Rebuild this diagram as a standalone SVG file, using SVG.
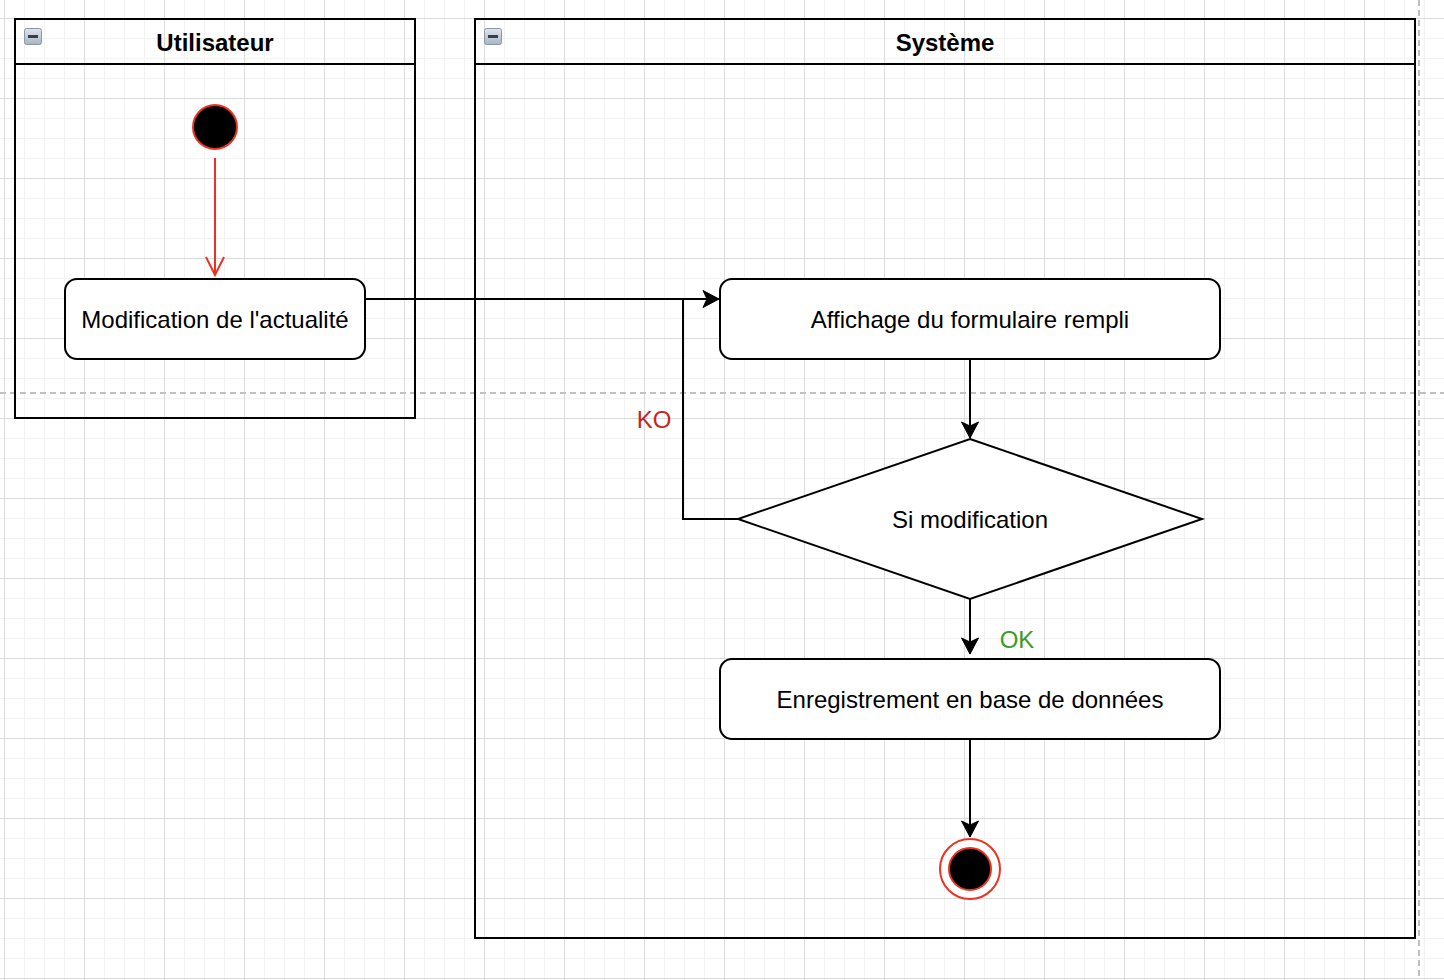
<svg xmlns="http://www.w3.org/2000/svg" width="1444" height="980" viewBox="0 0 1444 980">
  <defs>
    <!-- canvas grid: minor 20px, major 80px -->
    <pattern id="grid" x="4" y="18" width="80" height="80" patternUnits="userSpaceOnUse">
      <path d="M20.5 0V80M40.5 0V80M60.5 0V80M0 20.5H80M0 40.5H80M0 60.5H80" stroke="#f2f2f2" stroke-width="1" fill="none"/>
      <path d="M0.5 0V80M0 0.5H80" stroke="#dcdcdc" stroke-width="1" fill="none"/>
    </pattern>
    <linearGradient id="iconFill" x1="0" y1="0" x2="0" y2="1">
      <stop offset="0" stop-color="#dfe5ee"/>
      <stop offset="1" stop-color="#a9b4c3"/>
    </linearGradient>
    <marker id="arrow" viewBox="-17 -9 18 18" refX="0" refY="0" markerWidth="18" markerHeight="18" markerUnits="userSpaceOnUse" orient="auto">
      <path d="M0 0L-16 -8.5L-12 0L-16 8.5Z" fill="#000" stroke="#000" stroke-width="1" stroke-linejoin="miter"/>
    </marker>
    <marker id="openRed" viewBox="-20 -11 22 22" refX="0" refY="0" markerWidth="22" markerHeight="22" markerUnits="userSpaceOnUse" orient="auto">
      <path d="M-18 -9L0 0L-18 9" fill="none" stroke="#ea3323" stroke-width="2"/>
    </marker>
  </defs>
  <style>
    .lane { fill: none; stroke: #000; stroke-width: 2; }
    .node { fill: #fff; stroke: #000; stroke-width: 2; }
    .label { font-family: "Liberation Sans", Arial, Helvetica, sans-serif; font-size: 24px; fill: #000; text-anchor: middle; }
    .title { font-weight: bold; }
    .edge { fill: none; stroke: #000; stroke-width: 2; }
    .pagebreak { stroke: #c0c0c0; stroke-width: 2; stroke-dasharray: 6 4; fill: none; }
  </style>

  <rect width="1444" height="980" fill="#fff"/>
  <rect width="1444" height="980" fill="url(#grid)"/>

  <!-- page break guides -->
  <path class="pagebreak" d="M0 393H1444"/>
  <path class="pagebreak" d="M1419 0V980"/>

  <!-- swimlane: Utilisateur -->
  <g id="lane-utilisateur">
    <rect class="lane" x="15" y="19" width="400" height="399"/>
    <path class="lane" d="M15 64H415"/>
    <rect x="24.5" y="28.5" width="17" height="16" rx="2" fill="url(#iconFill)" stroke="#8a97a8" stroke-width="1"/>
    <path d="M28 36.5H38" stroke="#3a3f47" stroke-width="3"/>
    <text class="label title" x="215" y="51">Utilisateur</text>
  </g>

  <!-- swimlane: Système -->
  <g id="lane-systeme">
    <rect class="lane" x="475" y="19" width="940" height="919"/>
    <path class="lane" d="M475 64H1415"/>
    <rect x="484.5" y="28.5" width="17" height="16" rx="2" fill="url(#iconFill)" stroke="#8a97a8" stroke-width="1"/>
    <path d="M488 36.5H498" stroke="#3a3f47" stroke-width="3"/>
    <text class="label title" x="945" y="51">Système</text>
  </g>

  <!-- connectors -->
  <g id="connectors">
    <path d="M215 158V275" fill="none" stroke="#ea3323" stroke-width="2" marker-end="url(#openRed)"/>
    <path class="edge" d="M365 299H719" marker-end="url(#arrow)"/>
    <path class="edge" d="M738 519H683V299"/>
    <path class="edge" d="M970 359V438" marker-end="url(#arrow)"/>
    <path class="edge" d="M970 599V654" marker-end="url(#arrow)"/>
    <path class="edge" d="M970 739V837" marker-end="url(#arrow)"/>
    <text class="label" x="654" y="428" style="fill:#c4281c">KO</text>
    <text class="label" x="1017" y="648" style="fill:#3f9a25">OK</text>
  </g>

  <!-- initial state -->
  <g id="start">
    <circle cx="215" cy="127" r="22" fill="#000" stroke="#ea3323" stroke-width="2"/>
  </g>

  <g id="modification">
    <rect class="node" x="65" y="279" width="300" height="80" rx="12"/>
    <text class="label" x="215" y="328">Modification de l'actualité</text>
  </g>

  <g id="affichage">
    <rect class="node" x="720" y="279" width="500" height="80" rx="12"/>
    <text class="label" x="970" y="328">Affichage du formulaire rempli</text>
  </g>

  <g id="decision">
    <path class="node" d="M970 439L1202 519L970 599L738 519Z"/>
    <text class="label" x="970" y="528">Si modification</text>
  </g>

  <g id="enregistrement">
    <rect class="node" x="720" y="659" width="500" height="80" rx="12"/>
    <text class="label" x="970" y="708">Enregistrement en base de données</text>
  </g>

  <!-- final state -->
  <g id="end">
    <circle cx="970" cy="869" r="30" fill="#fff" stroke="#ea3323" stroke-width="2"/>
    <circle cx="970" cy="869" r="21" fill="#000" stroke="#ea3323" stroke-width="2"/>
  </g>
</svg>
